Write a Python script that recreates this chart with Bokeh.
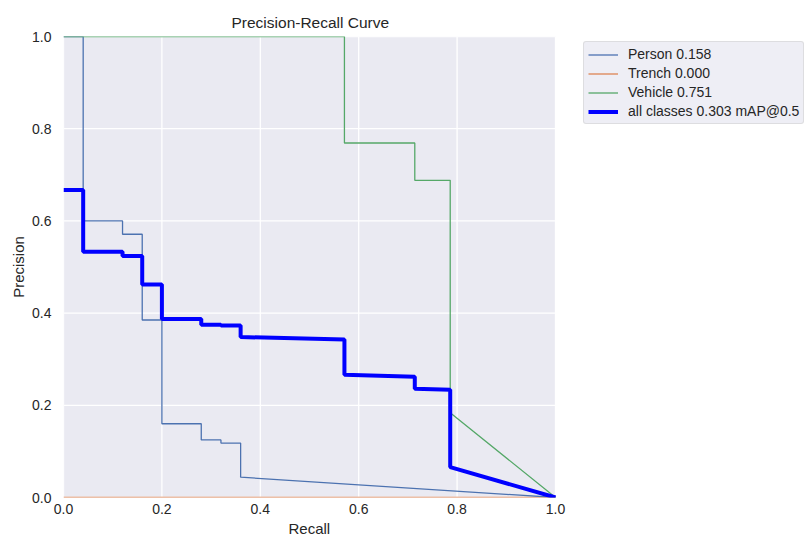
from bokeh.plotting import figure
from bokeh.models import Legend, LegendItem, FixedTicker, Title
from bokeh.embed import file_html
from bokeh.resources import INLINE

# ---- data ----
person_recall = [0.0, 0.04, 0.04, 0.12, 0.12, 0.16, 0.16, 0.20, 0.20, 0.28, 0.28, 0.32, 0.32, 0.36, 0.36, 1.0]
person_prec   = [1.0, 1.0, 0.600, 0.600, 0.571, 0.571, 0.385, 0.385, 0.160, 0.160, 0.125, 0.125, 0.118, 0.118, 0.044, 0.0]

trench_recall = [0.0, 1.0]
trench_prec   = [0.0, 0.0]

vehicle_recall = [0.0, 0.571, 0.571, 0.714, 0.714, 0.786, 0.786, 1.0]
vehicle_prec   = [1.0, 1.0, 0.769, 0.769, 0.688, 0.688, 0.184, 0.0]

all_recall = [0.0, 0.04, 0.04, 0.12, 0.12, 0.16, 0.16, 0.20, 0.20, 0.28, 0.28, 0.32, 0.32, 0.36, 0.36, 0.571, 0.571, 0.714, 0.714, 0.786, 0.786, 1.0]
all_prec   = [0.667, 0.667, 0.533, 0.533, 0.524, 0.524, 0.462, 0.462, 0.387, 0.387, 0.375, 0.375, 0.373, 0.373, 0.348, 0.343, 0.266, 0.262, 0.236, 0.234, 0.066, 0.0]

legend_labels = ["Person 0.158", "Trench 0.000", "Vehicle 0.751", "all classes 0.303 mAP@0.5"]
ticks = [0.0, 0.2, 0.4, 0.6, 0.8, 1.0]
axis_min, axis_max = 0.0, 1.0

FONT = "Liberation Sans"
TXT = "#262626"
BG = "#EAEAF2"

# layout: axes box 492x461 px, frame extended to the right to host the legend
AX_W, AX_H, FRAME_W = 492, 461, 744
x_end = axis_max * FRAME_W / AX_W

p = figure(frame_width=FRAME_W, frame_height=AX_H, x_range=(axis_min, x_end), y_range=(axis_min, axis_max),
           output_backend="svg", toolbar_location=None,
           min_border_left=63, min_border_right=0, min_border_top=36, min_border_bottom=0,
           title="Precision-Recall Curve")

p.background_fill_color = "white"
p.border_fill_color = "white"
p.outline_line_color = None

p.title.align = "left"
p.title.offset = 168
p.title.text_font = FONT
p.title.text_font_size = "15.5px"
p.title.text_font_style = "normal"
p.title.text_color = TXT
p.title.standoff = 11

for ax in (p.xaxis[0], p.yaxis[0]):
    ax.ticker = FixedTicker(ticks=ticks)
    ax.bounds = (axis_min, axis_max)
    ax.axis_line_color = None
    ax.major_tick_line_color = None
    ax.minor_tick_line_color = None
    ax.major_tick_out = 0
    ax.major_tick_in = 0
    ax.minor_tick_out = 0
    ax.minor_tick_in = 0
    ax.major_label_text_font = FONT
    ax.major_label_text_font_size = "14px"
    ax.major_label_text_color = TXT
    ax.axis_label_text_font = FONT
    ax.axis_label_text_font_size = "15px"
    ax.axis_label_text_font_style = "normal"
    ax.axis_label_text_color = TXT
    ax.major_label_overrides = {t: f"{t:.1f}" for t in ticks}

p.yaxis.axis_label = "Precision"
p.xaxis.major_label_standoff = 6
p.yaxis.major_label_standoff = 12
p.yaxis.axis_label_standoff = 2

# x-axis label, centred under the axes box (not under the extended frame)
xlabel = Title(text="Recall", align="left", offset=225, standoff=2,
               text_font=FONT, text_font_size="15px", text_font_style="normal", text_color=TXT)
p.add_layout(xlabel, "below")

p.xgrid.grid_line_color = None
p.ygrid.grid_line_color = None

# axes background and white grid, restricted to the axes box
p.quad(left=[axis_min], right=[axis_max], bottom=[axis_min], top=[axis_max],
       fill_color=BG, line_color=None)
p.segment(x0=[axis_min] * len(ticks), x1=[axis_max] * len(ticks), y0=ticks, y1=ticks,
          line_color="white", line_width=1.3)
p.segment(x0=ticks, x1=ticks, y0=[axis_min] * len(ticks), y1=[axis_max] * len(ticks),
          line_color="white", line_width=1.3)

r_tr = p.line(trench_recall, trench_prec, line_color="#DD8452", line_width=1.3)
r_pe = p.line(person_recall, person_prec, line_color="#4C72B0", line_width=1.3)
r_ve = p.line(vehicle_recall, vehicle_prec, line_color="#55A868", line_width=1.3)
r_all = p.line(all_recall, all_prec, line_color="blue", line_width=4)

legend = Legend(items=[
    LegendItem(label=legend_labels[0], renderers=[r_pe]),
    LegendItem(label=legend_labels[1], renderers=[r_tr]),
    LegendItem(label=legend_labels[2], renderers=[r_ve]),
    LegendItem(label=legend_labels[3], renderers=[r_all]),
], location=(520, 373))
legend.label_text_font = FONT
legend.label_text_font_size = "14px"
legend.label_text_color = TXT
legend.label_height = 15
legend.glyph_height = 15
legend.glyph_width = 30
legend.spacing = 3
legend.padding = 4
legend.margin = 0
legend.label_standoff = 10
legend.background_fill_color = "#EEEEF5"
legend.background_fill_alpha = 1.0
legend.border_line_color = "#CCCCCC"
legend.border_line_width = 1
legend.border_radius = 3
p.add_layout(legend, "center")

open("out.html", "w").write(file_html(p, INLINE))
